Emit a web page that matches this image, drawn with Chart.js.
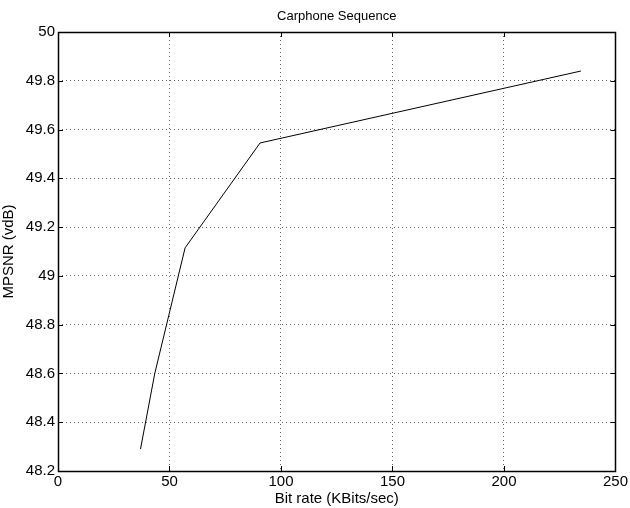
<!DOCTYPE html>
<html>
<head>
<meta charset="utf-8">
<script src="https://cdn.jsdelivr.net/npm/chart.js@4"></script>
<style>
  html, body { margin: 0; padding: 0; background: #fff; }
  #wrap { width: 630px; height: 508px; }
</style>
</head>
<body>
<div id="wrap"><canvas id="c" width="630" height="508"></canvas></div>
<script>
// Data
const bitRate = [37.0, 43.4, 57.0, 90.6, 234.5];
const mpsnr   = [48.29, 48.60, 49.115, 49.545, 49.84];
const xTicks  = [0, 50, 100, 150, 200, 250];
const yTicks  = [48.2, 48.4, 48.6, 48.8, 49, 49.2, 49.4, 49.6, 49.8, 50];
const chartTitle = 'Carphone Sequence';
const xTitle = 'Bit rate (KBits/sec)';
const yTitle = 'MPSNR (vdB)';

const FONT = '"Liberation Sans", Arial, Helvetica, sans-serif';

const framePlugin = {
  id: 'frame',
  afterDraw(chart) {
    const ctx = chart.ctx;
    const a = chart.chartArea;
    const xs = chart.scales.x, ys = chart.scales.y;
    ctx.save();
    ctx.strokeStyle = '#000';
    ctx.lineWidth = 1;
    const tl = 5;
    ctx.beginPath();
    xTicks.forEach(v => {
      const px = Math.round(xs.getPixelForValue(v)) + 0.5;
      ctx.moveTo(px, a.bottom); ctx.lineTo(px, a.bottom - tl);
      ctx.moveTo(px, a.top); ctx.lineTo(px, a.top + tl);
    });
    yTicks.forEach(v => {
      const py = Math.round(ys.getPixelForValue(v)) + 0.5;
      ctx.moveTo(a.left, py); ctx.lineTo(a.left + tl, py);
      ctx.moveTo(a.right, py); ctx.lineTo(a.right - tl, py);
    });
    ctx.stroke();
    ctx.lineWidth = 1.5;
    ctx.strokeRect(Math.round(a.left) + 0.5, Math.round(a.top) + 0.5,
                   Math.round(a.right - a.left), Math.round(a.bottom - a.top));
    // title centred over the axes, as in the reference
    ctx.fillStyle = '#000';
    ctx.font = '13px ' + FONT;
    ctx.textAlign = 'center';
    ctx.textBaseline = 'middle';
    ctx.fillText(chartTitle, (a.left + a.right) / 2, 16);
    ctx.restore();
  }
};

const gridColor = (edgeA, edgeB) => ctx =>
  (ctx.tick && (Math.abs(ctx.tick.value - edgeA) < 1e-6 || Math.abs(ctx.tick.value - edgeB) < 1e-6))
    ? 'rgba(0,0,0,0)' : 'rgba(0,0,0,0.6)';

new Chart(document.getElementById('c'), {
  type: 'scatter',
  data: {
    datasets: [{
      data: bitRate.map((x, i) => ({ x: x, y: mpsnr[i] })),
      showLine: true,
      borderColor: '#000',
      borderWidth: 1,
      pointRadius: 0,
      tension: 0,
      fill: false
    }]
  },
  options: {
    responsive: false,
    animation: false,
    devicePixelRatio: 1,
    layout: { padding: { top: 32, right: 13, bottom: 0, left: 0 } },
    plugins: {
      legend: { display: false },
      tooltip: { enabled: false },
      title: { display: false }
    },
    scales: {
      x: {
        type: 'linear',
        min: 0, max: 250,
        afterBuildTicks: s => { s.ticks = xTicks.map(v => ({ value: v })); },
        afterFit: s => { s.height = 37; },
        border: { display: false, dash: [1, 3] },
        grid: {
          drawTicks: false,
          color: gridColor(0, 250),
          lineWidth: 1
        },
        ticks: {
          color: '#000',
          font: { family: FONT, size: 15 },
          padding: 2,
          maxRotation: 0,
          autoSkip: false
        },
        title: {
          display: true,
          text: xTitle,
          color: '#000',
          font: { family: FONT, size: 15 },
          padding: { top: 0, bottom: 0 }
        }
      },
      y: {
        type: 'linear',
        min: 48.2, max: 50,
        afterBuildTicks: s => { s.ticks = yTicks.map(v => ({ value: v })); },
        afterFit: s => { s.width = 58; },
        border: { display: false, dash: [1, 3] },
        grid: {
          drawTicks: false,
          color: gridColor(48.2, 50),
          lineWidth: 1
        },
        ticks: {
          color: '#000',
          font: { family: FONT, size: 15 },
          padding: 3,
          autoSkip: false,
          callback: v => String(Math.round(v * 10) / 10)
        },
        title: {
          display: true,
          text: yTitle,
          color: '#000',
          font: { family: FONT, size: 15 },
          padding: { top: 0, bottom: 0 }
        }
      }
    }
  },
  plugins: [framePlugin]
});
</script>
</body>
</html>
